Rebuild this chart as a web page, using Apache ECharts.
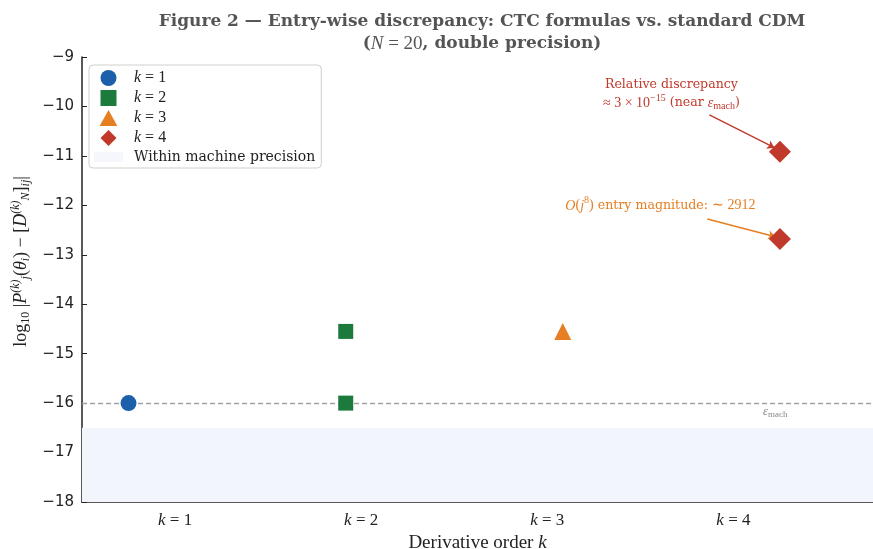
<!DOCTYPE html>
<html><head><meta charset="utf-8">
<script src="https://cdn.jsdelivr.net/npm/echarts@6/dist/echarts.min.js"></script>
<style>html,body{margin:0;padding:0;background:#fff}#c{width:873px;height:549px}</style>
</head><body><div id="c"></div><script>
// ---- data ----
const kOrders = [1, 2, 3, 4];
const seriesNames = ['k=1', 'k=2', 'k=3', 'k=4'];
const xPositions = [0.75, 1.917, 3.083, 4.25];   // jittered x per k
const k1Values = [-16.0];
const k2Values = [-14.55, -16.0];
const k3Values = [-14.55];
const k4Values = [-10.915, -12.68];
const yTickMin = -18, yTickMax = -9, yTickStep = 1;
const xTickValues = [1, 2, 3, 4];
const epsMachLog = -16;
const bandRange = [-18, -16.5];
const redNoteAt = [3.667, -9.75];
const orangeNoteAt = [3.608, -12.01];
const redArrow = [[3.871, -10.173], [4.220, -10.835]];
const orangeArrow = [[3.860, -12.277], [4.225, -12.635]];
const epsLabelAt = [4.225, -16.17];

const colors = { k1: '#1c5fab', k2: '#1b7a3c', k3: '#e67e22', k4: '#c0392b', band: '#f2f5fb' };
const serif = 'DejaVu Serif';
const math = 'Liberation Serif';

const allVals = [k1Values, k2Values, k3Values, k4Values];
function pts(i) { return allVals[i].map(v => [xPositions[i], v]); }

const chart = echarts.init(document.getElementById('c'), null, { renderer: 'canvas' });

const symbols = ['circle', 'rect', 'triangle', 'diamond'];
const sizes = [16, 15, 17, 22];
const cols = [colors.k1, colors.k2, colors.k3, colors.k4];

const series = [];
series.push({
  name: 'Within machine precision', type: 'scatter', data: [], z: 1,
  itemStyle: { color: colors.band },
  markArea: { silent: true, itemStyle: { color: colors.band },
    data: [[{ yAxis: bandRange[0] }, { yAxis: bandRange[1] }]] },
  markLine: { silent: true, symbol: 'none', animation: false,
    lineStyle: { color: '#a0a0a0', type: [5, 3], width: 1.3 },
    label: { show: false },
    data: [{ yAxis: epsMachLog }] },
  markPoint: { silent: true, symbol: 'circle', symbolSize: 0, animation: false,
    label: { show: true, position: 'inside', color: '#888', fontFamily: math,
      formatter: '{e|ε}{s|mach}',
      rich: { e: { fontFamily: math, fontStyle: 'italic', fontSize: 13, color: '#888' },
              s: { fontFamily: math, fontSize: 9, color: '#888', padding: [6, 0, 0, 0] } } },
    data: [{ coord: epsLabelAt }] }
});
for (let i = 0; i < 4; i++) {
  const s = {
    name: seriesNames[i], type: 'scatter', data: pts(i), z: 5,
    symbol: symbols[i], symbolSize: sizes[i],
    itemStyle: { color: cols[i], opacity: 1 }
  };
  if (i === 3) {
    s.markLine = {
      silent: true, animation: false, label: { show: false },
      data: [
        [{ coord: redArrow[0], symbol: 'none', lineStyle: { color: colors.k4, width: 1.4, type: 'solid' } },
         { coord: redArrow[1], symbol: 'arrow', symbolSize: 7 }],
        [{ coord: orangeArrow[0], symbol: 'none', lineStyle: { color: colors.k3, width: 1.4, type: 'solid' } },
         { coord: orangeArrow[1], symbol: 'arrow', symbolSize: 7 }]
      ]
    };
    s.markPoint = {
      silent: true, animation: false, symbol: 'circle', symbolSize: 0,
      data: [
        { coord: redNoteAt, label: { show: true, position: 'inside', color: colors.k4,
            fontFamily: serif, fontSize: 12.6, lineHeight: 18, align: 'center',
            formatter: 'Relative discrepancy\n{m|≈ 3 × 10}{sup|−15} (near {it|ε}{sub|mach})',
            rich: {
              m: { fontFamily: math, fontSize: 14, color: colors.k4 },
              sup: { fontFamily: math, fontSize: 10, color: colors.k4, padding: [0, 0, 10, 0] },
              it: { fontFamily: math, fontStyle: 'italic', fontSize: 14, color: colors.k4 },
              sub: { fontFamily: math, fontSize: 10, color: colors.k4, padding: [6, 0, 0, 0] }
            } } },
        { coord: orangeNoteAt, label: { show: true, position: 'inside', color: colors.k3,
            fontFamily: serif, fontSize: 12.6,
            formatter: '{it|O}{m|(}{it|j}{sup|8}{m|)} entry magnitude: {m|∼ 2912}',
            rich: {
              it: { fontFamily: math, fontStyle: 'italic', fontSize: 14, color: colors.k3 },
              m: { fontFamily: math, fontSize: 14, color: colors.k3 },
              sup: { fontFamily: math, fontSize: 10, color: colors.k3, padding: [0, 0, 10, 0] }
            } } }
      ]
    };
  }
  series.push(s);
}

const yName = 'log{sn|10} |{it|P}{sp|(k)}{sb|j}({it|θ}{sb|i}) − [{it|D}{sp|(k)}{sb|N}]{sb|ij}|';

chart.setOption({
  animation: false,
  backgroundColor: '#fff',
  title: {
    text: 'Figure 2 — Entry-wise discrepancy: CTC formulas vs. standard CDM\n({m|N}{r| = 20}, double precision)',
    left: 477, top: 6, textAlign: 'center',
    textStyle: { fontFamily: serif, fontWeight: 'bold', fontSize: 17, color: '#555', lineHeight: 22,
      rich: {
        m: { fontFamily: math, fontStyle: 'italic', fontWeight: 'normal', fontSize: 19, color: '#555' },
        r: { fontFamily: math, fontWeight: 'normal', fontSize: 19, color: '#555' }
      } }
  },
  legend: {
    orient: 'vertical', left: 89, top: 65,
    backgroundColor: '#fff', borderColor: '#cfcfcf', borderWidth: 1, borderRadius: 4,
    padding: [5, 6, 4, 5],
    itemWidth: 29, itemHeight: 16, itemGap: 4,
    textStyle: { fontFamily: serif, fontSize: 14, color: '#222', padding: [0, 0, 0, 6],
      rich: {
        i: { fontFamily: math, fontStyle: 'italic', fontSize: 16, color: '#222' },
        n: { fontFamily: math, fontSize: 16, color: '#222' }
      } },
    formatter: name => name.startsWith('k=') ? '{i|k}{n| = ' + name.slice(2) + '}' : name,
    data: [
      { name: 'k=1', icon: 'circle' },
      { name: 'k=2', icon: 'path://M0,0L10,0L10,10L0,10Z' },
      { name: 'k=3', icon: 'path://M5,0L10,9L0,9Z' },
      { name: 'k=4', icon: 'path://M5,0L10,5L5,10L0,5Z' },
      { name: 'Within machine precision', icon: 'path://M0,0L29,0L29,10L0,10Z' }
    ]
  },
  grid: { left: 82, right: 0, top: 57, bottom: 47, containLabel: false, outerBoundsMode: 'none' },
  xAxis: {
    type: 'value', min: 0.5, max: 4.75,
    name: 'Derivative order {it|k}', nameLocation: 'middle', nameGap: 31,
    nameTextStyle: { fontFamily: math, fontSize: 19, color: '#222',
      rich: { it: { fontFamily: math, fontStyle: 'italic', fontSize: 19, color: '#222' } } },
    axisLine: { show: true, lineStyle: { color: '#222', width: 1.5 } },
    axisTick: { show: true, inside: true, length: 5, customValues: xTickValues, lineStyle: { color: '#222', width: 1 } },
    axisLabel: { show: true, customValues: xTickValues, margin: 10, color: '#222',
      fontFamily: math, fontSize: 16,
      formatter: v => '{i|k}{n| = ' + v + '}',
      rich: { i: { fontFamily: math, fontStyle: 'italic', fontSize: 17, color: '#222' },
              n: { fontFamily: math, fontSize: 17, color: '#222' } } },
    splitLine: { show: false }
  },
  yAxis: {
    type: 'value', min: yTickMin, max: yTickMax, interval: yTickStep,
    name: yName, nameLocation: 'middle', nameGap: 44, nameRotate: 90,
    nameTextStyle: { fontFamily: math, fontSize: 18, color: '#222', padding: [0, 0, 0, 36],
      rich: {
        it: { fontFamily: math, fontStyle: 'italic', fontSize: 18, color: '#222' },
        sp: { fontFamily: math, fontStyle: 'italic', fontSize: 12, color: '#222', padding: [0, 0, 11, 0] },
        sb: { fontFamily: math, fontStyle: 'italic', fontSize: 12, color: '#222', padding: [9, 0, 0, 0] },
        sn: { fontFamily: math, fontSize: 12, color: '#222', padding: [9, 0, 0, 0] }
      } },
    axisLine: { show: true, lineStyle: { color: '#222', width: 1.5 } },
    axisTick: { show: true, inside: true, length: 5, lineStyle: { color: '#222', width: 1 } },
    axisLabel: { color: '#222', fontFamily: 'DejaVu Sans', fontSize: 15, margin: 8,
      formatter: v => String(v).replace('-', '−') },
    splitLine: { show: false }
  },
  series: series
});
</script></body></html>
